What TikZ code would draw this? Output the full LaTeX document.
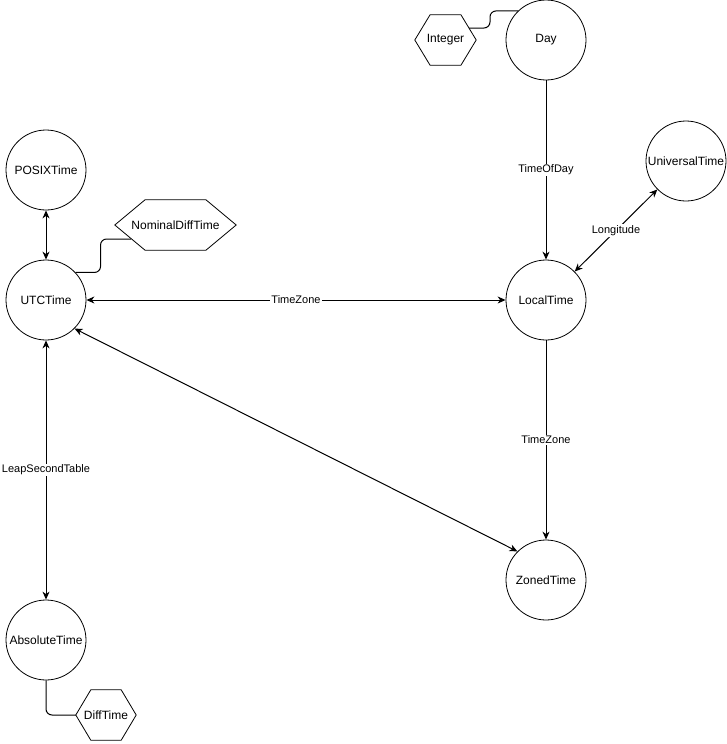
\documentclass[tikz,border=0pt]{standalone}
\usepackage{fontspec}
\setmainfont{Liberation Sans}
\usetikzlibrary{arrows.meta,calc}
\begin{document}
\begin{tikzpicture}[x=1pt,y=-1pt,
  circ/.style={circle, draw, line width=0.8pt, minimum size=80pt, inner sep=0pt, font=\fontsize{12}{14}\selectfont},
  hexn/.style={rectangle, minimum height=50pt, inner sep=0pt, font=\fontsize{12}{14}\selectfont},
  hexline/.style={draw, line width=0.8pt},
  conn/.style={line width=1pt},
  tip/.tip={Stealth[length=8pt,width=7pt,inset=2.5pt]},
  arr/.style={conn, -tip},
  darr/.style={conn, tip-tip},
  lbl/.style={fill=white, inner sep=1pt, font=\fontsize{11}{13}\selectfont}]
\useasboundingbox (0,0) rectangle (727,744);

% circles
\node[circ] (day) at (546,40) {Day};
\node[circ] (posix) at (46,170) {POSIXTime};
\node[circ] (univ) at (686,161) {UniversalTime};
\node[circ] (utc) at (46,300) {UTCTime};
\node[circ] (local) at (546,300) {LocalTime};
\node[circ] (zoned) at (546,580) {ZonedTime};
\node[circ] (abs) at (46,640) {AbsoluteTime};

% hexagons
\node[hexn, minimum width=61pt] (int) at (445.5,40) {Integer};
\node[hexn, minimum width=121pt] (nom) at (175.5,225) {NominalDiffTime};
\node[hexn, minimum width=60pt] (diff) at (106,715) {DiffTime};

\draw[hexline] (int.west) -- ([xshift=15.25pt]int.north west) -- ([xshift=-15.25pt]int.north east) -- (int.east)
  -- ([xshift=-15.25pt]int.south east) -- ([xshift=15.25pt]int.south west) -- cycle;
\draw[hexline] (nom.west) -- ([xshift=30.25pt]nom.north west) -- ([xshift=-30.25pt]nom.north east) -- (nom.east)
  -- ([xshift=-30.25pt]nom.south east) -- ([xshift=30.25pt]nom.south west) -- cycle;
\draw[hexline] (diff.west) -- ([xshift=15pt]diff.north west) -- ([xshift=-15pt]diff.north east) -- (diff.east)
  -- ([xshift=-15pt]diff.south east) -- ([xshift=15pt]diff.south west) -- cycle;

% plain connectors
\draw[conn, rounded corners=6pt] ([shift={(23.5,-12)}]int.center) -- ++(21,0) |- (day.134);
\draw[conn, rounded corners=6pt] (utc.43) -- ++(25,0) |- ([shift={(-44.5,14)}]nom.center);
\draw[conn, rounded corners=6pt] (abs.south) |- (diff.west);

% arrows
\draw[arr] (day) -- node[lbl] {TimeOfDay} (local);
\draw[darr] (posix) -- (utc);
\draw[darr] (utc) -- node[lbl] {TimeZone} (local);
\draw[darr] (univ) -- node[lbl] {Longitude} (local);
\draw[arr] (local) -- node[lbl] {TimeZone} (zoned);
\draw[darr] (utc.-45) -- (zoned.135);
\draw[darr] (utc) -- node[lbl] {LeapSecondTable} (abs);
\end{tikzpicture}
\end{document}
